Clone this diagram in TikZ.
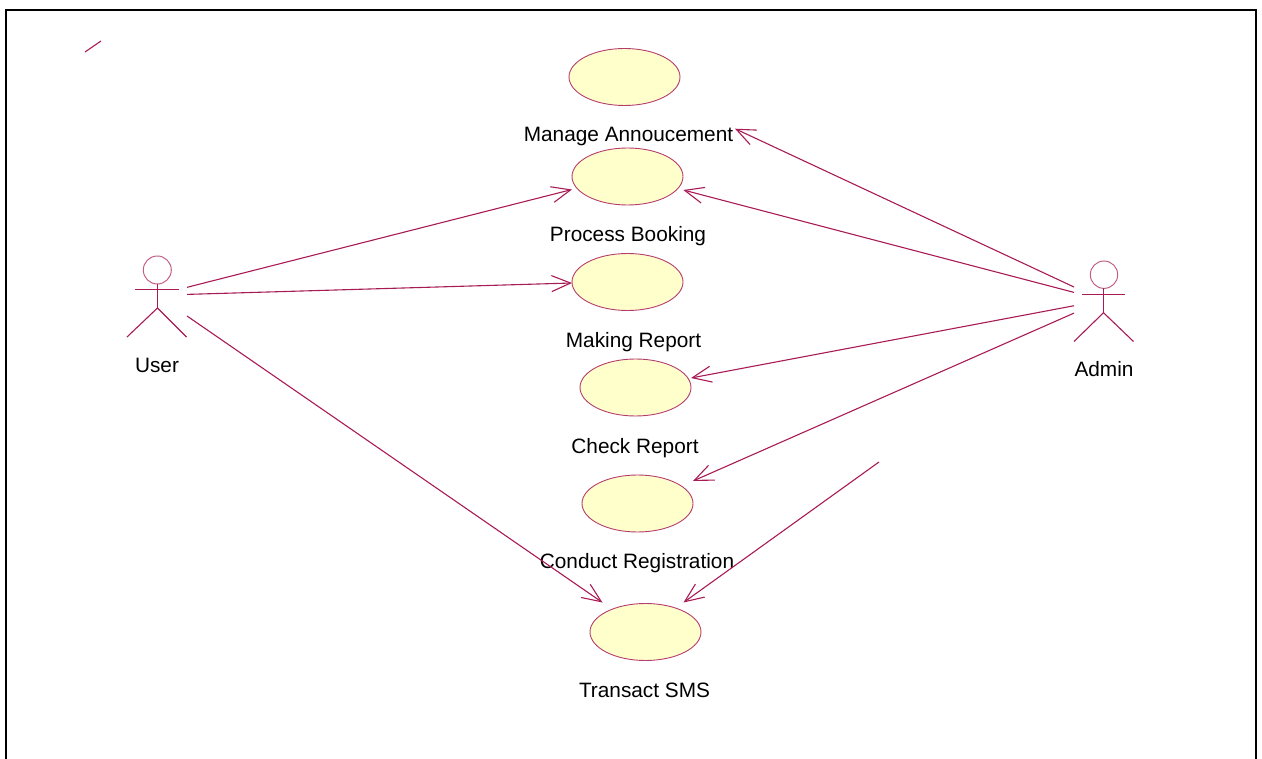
\documentclass[tikz,border=0pt]{standalone}
\usepackage{fontspec}
\setmainfont{Liberation Sans}
\usetikzlibrary{arrows.meta,shapes.geometric}
\definecolor{umlline}{HTML}{A81B55}
\definecolor{umlfill}{HTML}{FFFFCB}
\tikzset{
  usecase/.style={ellipse,draw=umlline!85,fill=umlfill,line width=0.9pt,minimum width=111pt,minimum height=57pt,inner sep=0pt,outer sep=0pt},
  lbl/.style={anchor=base,inner sep=0pt,outer sep=0pt,text=black,font=\fontsize{20.8pt}{24pt}\selectfont},
  actorbox/.style={rectangle,minimum width=60pt,minimum height=81pt,inner sep=0pt,outer sep=0pt},
  actorline/.style={draw=umlline,line width=1.1pt},
  actorhead/.style={draw=umlline!70,line width=1pt},
  assoc/.style={draw=umlline,line width=1.1pt,-{Straight Barb[length=19pt,width=16pt,line width=1.1pt]}},
  frameline/.style={draw=black,line width=2.2pt}
}
\begin{document}
\begin{tikzpicture}[x=1pt,y=-1pt]
\useasboundingbox (0,0) rectangle (1262,759);
\draw[frameline] (6,759) -- (6,10) -- (1256,10) -- (1256,759);
\coordinate (strokeA) at (85,52);
\coordinate (strokeB) at (101,41);
\draw[actorline] (strokeA) -- (strokeB);
% use cases
\node[usecase] (ma) at (624.5,77) {};
\node[usecase] (pb) at (627.5,176.5) {};
\node[usecase] (mr) at (627.5,282) {};
\node[usecase] (cr) at (635.5,387.5) {};
\node[usecase] (cg) at (637.5,503.5) {};
\node[usecase] (ts) at (645.5,632) {};
% labels
\node[lbl] (malbl) at (628.5,142) {Manage Annoucement};
\node[lbl] (pblbl) at (628,242) {Process Booking};
\node[lbl] (mrlbl) at (633.5,348) {Making Report};
\node[lbl] (crlbl) at (635,453.5) {Check Report};
\node[lbl] (cglbl) at (637,568) {Conduct Registration};
\node[lbl] (tslbl) at (644.5,697.5) {Transact SMS};
\node[lbl] (ulbl) at (157,373) {User};
\node[lbl] (albl) at (1104,377) {Admin};
% actors
\node[actorbox] (user) at (157,296.5) {};
\draw[actorhead] (157.3,270) circle[radius=14];
\draw[actorline] (135,289.5) -- (178.5,289.5);
\draw[actorline] (157.5,284) -- (157.5,308);
\draw[actorline] (127,337) -- (157.5,308) -- (186.5,337);
\node[actorbox] (admin) at (1104,301) {};
\draw[actorhead] (1104,274.7) circle[radius=13.7];
\draw[actorline] (1082,294.5) -- (1125,294.5);
\draw[actorline] (1103.5,288.5) -- (1103.5,312.7);
\draw[actorline] (1074,341.5) -- (1103.5,312.7) -- (1133.5,341.5);
% associations
\draw[assoc] (user.17.6) -- ([shift={(-55.5,13)}]pb.center);
\draw[assoc] (user.4.8) -- ([shift={(-55.5,1)}]mr.center);
\draw[assoc] (user.-33) -- ([shift={(-43,-29.5)}]ts.center);
\draw[assoc] (admin.155.5) -- ([shift={(110.5,51.7)}]ma.center);
\draw[assoc] (admin.164.5) -- ([shift={(55.8,13.5)}]pb.center);
\draw[assoc] (admin.189.5) -- ([shift={(55.5,-9.5)}]cr.center);
\draw[assoc] (admin.202.3) -- ([shift={(55.5,-22.5)}]cg.center);
\coordinate (smsfree) at (879,462);
\draw[assoc] (smsfree) -- ([shift={(38,-29.5)}]ts.center);
\end{tikzpicture}
\end{document}
